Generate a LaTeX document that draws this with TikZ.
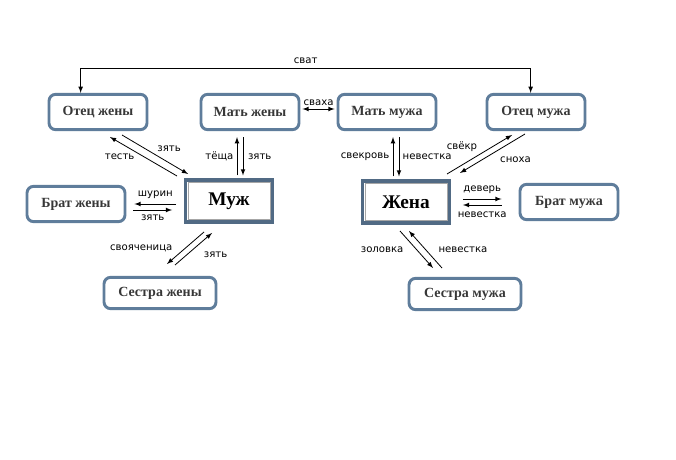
\documentclass[tikz,border=0pt]{standalone}
\usepackage{fontspec}
\setmainfont{Liberation Serif}
\newfontfamily\lblfont{DejaVu Sans}
\usetikzlibrary{positioning}
\definecolor{frameblue}{RGB}{95,125,155}
\definecolor{boxtext}{RGB}{55,55,55}

\begin{document}
\begin{tikzpicture}[x=0.75pt,y=-0.75pt,rel/.style={draw=frameblue, line width=2.2pt, rounded corners=5pt, fill=white, minimum width=73.5pt, minimum height=26.5pt, inner sep=2pt, text=boxtext, font=\bfseries\fontsize{10.5}{12}\selectfont},spouse/.style={draw=frameblue!85!black, line width=2.4pt, fill=white, minimum width=65pt, minimum height=31.5pt, font=\bfseries\fontsize{14.5}{16}\selectfont},sister/.style={rel, minimum width=84pt, minimum height=23.5pt},lbl/.style={inner sep=1.5pt, font=\lblfont\fontsize{7.6}{9}\selectfont},link/.style={-latex, line width=0.6pt}]
\useasboundingbox (0,0) rectangle (676,460);
\node[rel] (otecz) at (98,112) {Отец жены};
\node[rel] (matz) at (250,112) {Мать жены};
\node[rel] (matm) at (387,112) {Мать мужа};
\node[rel] (otecm) at (536,112) {Отец мужа};
\node[rel] (bratz) at (76,204) {Брат жены};
\node[spouse] (muzh) at (229,201) {Муж};
\node[spouse] (zhena) at (406,202) {Жена};
\node[rel] (bratm) at (569,202) {Брат мужа};
\node[sister] (sestz) at (160,293) {Сестра жены};
\node[sister] (sestm) at (465,294) {Сестра мужа};
\foreach \n in {muzh,zhena}
  \draw[gray!70, line width=0.6pt] ([shift={(4,-4)}]\n.south west) rectangle ([shift={(-4,4)}]\n.north east);
\draw[latex-latex, line width=0.6pt] ([xshift=-13]otecz.north) -- ++(0,-24) -| node[lbl,pos=0.25,above=2pt]{сват} ([xshift=-4]otecm.north);
\draw[latex-latex, line width=0.6pt] ([shift={(2,-3)}]matz.east) -- node[lbl,above=1pt]{сваха} ([shift={(-2,-3)}]matm.west);
\draw[link] ([shift={(-52,-25)}]muzh.center) -- node[lbl,left=5pt]{тесть} ([shift={(12,25)}]otecz.center);
\draw[link] ([shift={(24,23)}]otecz.center) -- node[lbl,above right=0pt and 0pt]{зять} ([shift={(-41,-27)}]muzh.center);
\draw[link] ([shift={(8,-3)}]muzh.north) -- node[lbl,left=1pt]{тёща} ([shift={(-13,6)}]matz.south);
\draw[link] ([shift={(-7,6)}]matz.south) -- node[lbl,right=2pt]{зять} ([shift={(14,-3)}]muzh.north);
\draw[link] ([shift={(-13,-3)}]zhena.north) -- node[lbl,left=1pt]{свекровь} ([shift={(6,6)}]matm.south);
\draw[link] ([shift={(12,6)}]matm.south) -- node[lbl,right=1pt]{невестка} ([shift={(-7,-3)}]zhena.north);
\draw[link] ([shift={(41,-28)}]zhena.center) -- node[lbl,above left=0pt and 0pt]{свёкр} ([shift={(-24,23)}]otecm.center);
\draw[link] ([shift={(-11,22)}]otecm.center) -- node[lbl,below right=1pt and 4pt]{сноха} ([shift={(54,-29)}]zhena.center);
\draw[link] ([shift={(-8,3)}]muzh.west) -- node[lbl,above=2pt]{шурин} ([shift={(8,0)}]bratz.east);
\draw[link] ([shift={(7,6)}]bratz.east) -- node[lbl,below=2pt]{зять} ([shift={(-12,9)}]muzh.west);
\draw[link] ([shift={(-25,31)}]muzh.center) -- node[lbl,left=8pt]{свояченица} ([shift={(7,-29)}]sestz.center);
\draw[link] ([shift={(15,-28)}]sestz.center) -- node[lbl,below right=0pt and 6pt]{зять} ([shift={(-17,32)}]muzh.center);
\draw[link] ([shift={(12,-3)}]zhena.east) -- node[lbl,above=2pt]{деверь} ([shift={(-17,-3)}]bratm.west);
\draw[link] ([shift={(-17,3)}]bratm.west) -- node[lbl,below=3pt]{невестка} ([shift={(12,3)}]zhena.east);
\draw[link] ([shift={(-6,29)}]zhena.center) -- node[lbl,left=8pt]{золовка} ([shift={(-32,-26)}]sestm.center);
\draw[link] ([shift={(-23,-26)}]sestm.center) -- node[lbl,right=8pt]{невестка} ([shift={(3,29)}]zhena.center);
\end{tikzpicture}
\end{document}
